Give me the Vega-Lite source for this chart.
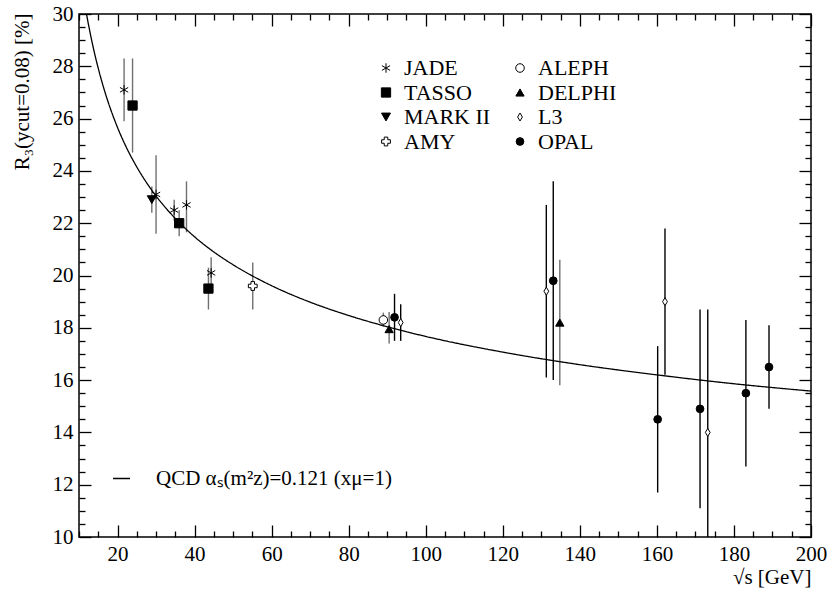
{
  "$schema": "https://vega.github.io/schema/vega-lite/v6.json",
  "width": 732,
  "height": 523,
  "autosize": {"type": "none"},
  "padding": {"left": 79, "top": 14, "right": 19, "bottom": 57},
  "background": "white",
  "config": {
    "view": {"stroke": "black", "strokeWidth": 1.5},
    "font": "Liberation Serif, serif",
    "axis": {"domain": false, "grid": false, "tickColor": "black", "tickWidth": 1.3, "labelColor": "black", "labelFont": "Liberation Serif, serif", "labelFontSize": 21, "titleFont": "Liberation Serif, serif", "titleFontSize": 21, "titleFontWeight": "normal", "titleColor": "black"},
    "legend": {"labelFont": "Liberation Serif, serif", "labelColor": "black", "labelLimit": 500}
  },
  "datasets": {
    "meas": [
      {"exp": "JADE", "E": 21.7, "R": 27.1, "lo": 25.9, "hi": 28.3},
      {"exp": "JADE", "E": 30.0, "R": 23.1, "lo": 21.6, "hi": 24.6},
      {"exp": "JADE", "E": 34.7, "R": 22.5, "lo": 22.1, "hi": 22.9},
      {"exp": "JADE", "E": 37.9, "R": 22.7, "lo": 21.65, "hi": 23.6},
      {"exp": "JADE", "E": 44.3, "R": 20.1, "lo": 19.55, "hi": 20.7},
      {"exp": "TASSO", "E": 23.9, "R": 26.5, "lo": 24.7, "hi": 28.3},
      {"exp": "TASSO", "E": 36.0, "R": 22.0, "lo": 21.5, "hi": 22.5},
      {"exp": "TASSO", "E": 43.6, "R": 19.5, "lo": 18.7, "hi": 20.3},
      {"exp": "MARK II", "E": 28.9, "R": 22.9, "lo": 22.4, "hi": 23.4},
      {"exp": "AMY", "E": 55.1, "R": 19.6, "lo": 18.7, "hi": 20.5},
      {"exp": "ALEPH", "E": 89.0, "R": 18.3, "lo": 18.05, "hi": 18.58},
      {"exp": "DELPHI", "E": 90.5, "R": 17.95, "lo": 17.4, "hi": 18.6},
      {"exp": "OPAL", "E": 91.9, "R": 18.4, "lo": 17.5, "hi": 19.3},
      {"exp": "L3", "E": 93.5, "R": 18.2, "lo": 17.5, "hi": 18.9},
      {"exp": "L3", "E": 131.3, "R": 19.4, "lo": 16.1, "hi": 22.7},
      {"exp": "OPAL", "E": 133.1, "R": 19.8, "lo": 16.0, "hi": 23.6},
      {"exp": "DELPHI", "E": 134.8, "R": 18.2, "lo": 15.8, "hi": 20.6},
      {"exp": "OPAL", "E": 160.2, "R": 14.5, "lo": 11.7, "hi": 17.3},
      {"exp": "L3", "E": 162.1, "R": 19.0, "lo": 16.2, "hi": 21.8},
      {"exp": "OPAL", "E": 171.2, "R": 14.9, "lo": 11.1, "hi": 18.7},
      {"exp": "L3", "E": 173.2, "R": 14.0, "lo": 9.3, "hi": 18.7},
      {"exp": "OPAL", "E": 183.1, "R": 15.5, "lo": 12.7, "hi": 18.3},
      {"exp": "OPAL", "E": 189.1, "R": 16.5, "lo": 14.9, "hi": 18.1}
    ],
    "qcd": [
      {"fit": "QCD αₛ(m²z)=0.121 (xμ=1)", "E": 11.5, "R": 30.39},
      {"fit": "QCD αₛ(m²z)=0.121 (xμ=1)", "E": 12, "R": 29.96},
      {"fit": "QCD αₛ(m²z)=0.121 (xμ=1)", "E": 13, "R": 29.20},
      {"fit": "QCD αₛ(m²z)=0.121 (xμ=1)", "E": 14, "R": 28.52},
      {"fit": "QCD αₛ(m²z)=0.121 (xμ=1)", "E": 15, "R": 27.92},
      {"fit": "QCD αₛ(m²z)=0.121 (xμ=1)", "E": 16, "R": 27.38},
      {"fit": "QCD αₛ(m²z)=0.121 (xμ=1)", "E": 17, "R": 26.89},
      {"fit": "QCD αₛ(m²z)=0.121 (xμ=1)", "E": 20, "R": 25.66},
      {"fit": "QCD αₛ(m²z)=0.121 (xμ=1)", "E": 22, "R": 24.99},
      {"fit": "QCD αₛ(m²z)=0.121 (xμ=1)", "E": 25, "R": 24.15},
      {"fit": "QCD αₛ(m²z)=0.121 (xμ=1)", "E": 27, "R": 23.67},
      {"fit": "QCD αₛ(m²z)=0.121 (xμ=1)", "E": 30, "R": 23.04},
      {"fit": "QCD αₛ(m²z)=0.121 (xμ=1)", "E": 35, "R": 22.18},
      {"fit": "QCD αₛ(m²z)=0.121 (xμ=1)", "E": 40, "R": 21.48},
      {"fit": "QCD αₛ(m²z)=0.121 (xμ=1)", "E": 45, "R": 20.90},
      {"fit": "QCD αₛ(m²z)=0.121 (xμ=1)", "E": 50, "R": 20.41},
      {"fit": "QCD αₛ(m²z)=0.121 (xμ=1)", "E": 60, "R": 19.61},
      {"fit": "QCD αₛ(m²z)=0.121 (xμ=1)", "E": 70, "R": 18.98},
      {"fit": "QCD αₛ(m²z)=0.121 (xμ=1)", "E": 80, "R": 18.47},
      {"fit": "QCD αₛ(m²z)=0.121 (xμ=1)", "E": 90, "R": 18.04},
      {"fit": "QCD αₛ(m²z)=0.121 (xμ=1)", "E": 100, "R": 17.67},
      {"fit": "QCD αₛ(m²z)=0.121 (xμ=1)", "E": 120, "R": 17.07},
      {"fit": "QCD αₛ(m²z)=0.121 (xμ=1)", "E": 140, "R": 16.59},
      {"fit": "QCD αₛ(m²z)=0.121 (xμ=1)", "E": 160, "R": 16.20},
      {"fit": "QCD αₛ(m²z)=0.121 (xμ=1)", "E": 180, "R": 15.86},
      {"fit": "QCD αₛ(m²z)=0.121 (xμ=1)", "E": 200, "R": 15.58}
    ]
  },
  "resolve": {"axis": {"x": "independent", "y": "independent"}},
  "layer": [
    {
      "data": {"name": "meas"},
      "mark": {"type": "rule", "clip": true, "strokeWidth": 1.4},
      "encoding": {
        "x": {"field": "E", "type": "quantitative", "scale": {"domain": [10, 200], "nice": false, "zero": false},
          "axis": {"orient": "bottom", "title": "√s [GeV]", "values": [10,15,20,25,30,35,40,45,50,55,60,65,70,75,80,85,90,95,100,105,110,115,120,125,130,135,140,145,150,155,160,165,170,175,180,185,190,195,200],
            "labelExpr": "datum.value % 20 === 0 ? '' + datum.value : ''",
            "tickSize": {"condition": {"test": "datum.value % 20 === 0", "value": -12}, "value": -6},
            "labelPadding": 18, "labelFlush": false,
            "titleAnchor": "end", "titleAlign": "right", "titleBaseline": "middle", "titleX": 732, "titleY": 40}},
        "y": {"field": "lo", "type": "quantitative", "scale": {"domain": [10, 30], "nice": false, "zero": false},
          "axis": {"orient": "left", "title": "R₃(ycut=0.08) [%]", "values": [10,10.5,11,11.5,12,12.5,13,13.5,14,14.5,15,15.5,16,16.5,17,17.5,18,18.5,19,19.5,20,20.5,21,21.5,22,22.5,23,23.5,24,24.5,25,25.5,26,26.5,27,27.5,28,28.5,29,29.5,30],
            "labelExpr": "datum.value % 2 === 0 ? '' + datum.value : ''",
            "tickSize": {"condition": {"test": "datum.value % 2 === 0", "value": -12}, "value": -6},
            "labelPadding": 18, "labelFlush": false,
            "titleAngle": 270, "titleAlign": "right", "titleBaseline": "middle", "titleX": -57, "titleY": -1}},
        "y2": {"field": "hi"},
        "color": {"condition": {"test": "datum.exp === 'L3' || datum.exp === 'OPAL'", "value": "#000000"}, "value": "#707070"}
      }
    },
    {
      "data": {"name": "qcd"},
      "mark": {"type": "line", "color": "black", "strokeWidth": 1.3, "clip": true, "interpolate": "monotone"},
      "encoding": {
        "x": {"field": "E", "type": "quantitative",
          "axis": {"orient": "top", "title": null, "labels": false, "values": [10,15,20,25,30,35,40,45,50,55,60,65,70,75,80,85,90,95,100,105,110,115,120,125,130,135,140,145,150,155,160,165,170,175,180,185,190,195,200],
            "tickSize": {"condition": {"test": "datum.value % 20 === 0", "value": -12}, "value": -6}}},
        "y": {"field": "R", "type": "quantitative",
          "axis": {"orient": "right", "title": null, "labels": false, "values": [10,10.5,11,11.5,12,12.5,13,13.5,14,14.5,15,15.5,16,16.5,17,17.5,18,18.5,19,19.5,20,20.5,21,21.5,22,22.5,23,23.5,24,24.5,25,25.5,26,26.5,27,27.5,28,28.5,29,29.5,30],
            "tickSize": {"condition": {"test": "datum.value % 2 === 0", "value": -12}, "value": -6}}},
        "strokeDash": {"field": "fit", "type": "nominal", "scale": {"range": [[1, 0]]},
          "legend": {"title": null, "orient": "none", "legendX": 32, "legendY": 454, "symbolType": "stroke", "symbolSize": 289, "symbolStrokeWidth": 1.3, "symbolStrokeColor": "black", "labelOffset": 24, "labelFontSize": 21}}
      }
    },
    {
      "data": {"name": "meas"},
      "mark": {"type": "point", "filled": true, "opacity": 1, "stroke": "black", "strokeWidth": 1},
      "encoding": {
        "x": {"field": "E", "type": "quantitative", "axis": null},
        "y": {"field": "R", "type": "quantitative", "axis": null},
        "shape": {"field": "exp", "type": "nominal",
          "scale": {"domain": ["JADE", "TASSO", "MARK II", "AMY", "ALEPH", "DELPHI", "L3", "OPAL"],
                    "range": ["M0,-1L0,1M-0.87,-0.5L0.87,0.5M-0.87,0.5L0.87,-0.5", "square", "triangle-down", "cross", "circle", "triangle-up", "M0,-1L0.6,0L0,1L-0.6,0Z", "circle"]},
          "legend": {"title": null, "orient": "none", "legendX": 296, "legendY": 43, "columns": 2, "columnPadding": 18, "rowPadding": 2.5, "labelFontSize": 22, "labelOffset": 7, "symbolStrokeColor": "black", "symbolStrokeWidth": 1}},
        "fill": {"field": "exp", "type": "nominal",
          "scale": {"domain": ["JADE", "TASSO", "MARK II", "AMY", "ALEPH", "DELPHI", "L3", "OPAL"],
                    "range": ["black", "black", "black", "white", "white", "black", "white", "black"]}},
        "size": {"field": "exp", "type": "nominal",
          "scale": {"domain": ["JADE", "TASSO", "MARK II", "AMY", "ALEPH", "DELPHI", "L3", "OPAL"],
                    "range": [90, 60, 55, 80, 55, 55, 40, 55]}}
      }
    }
  ]
}
